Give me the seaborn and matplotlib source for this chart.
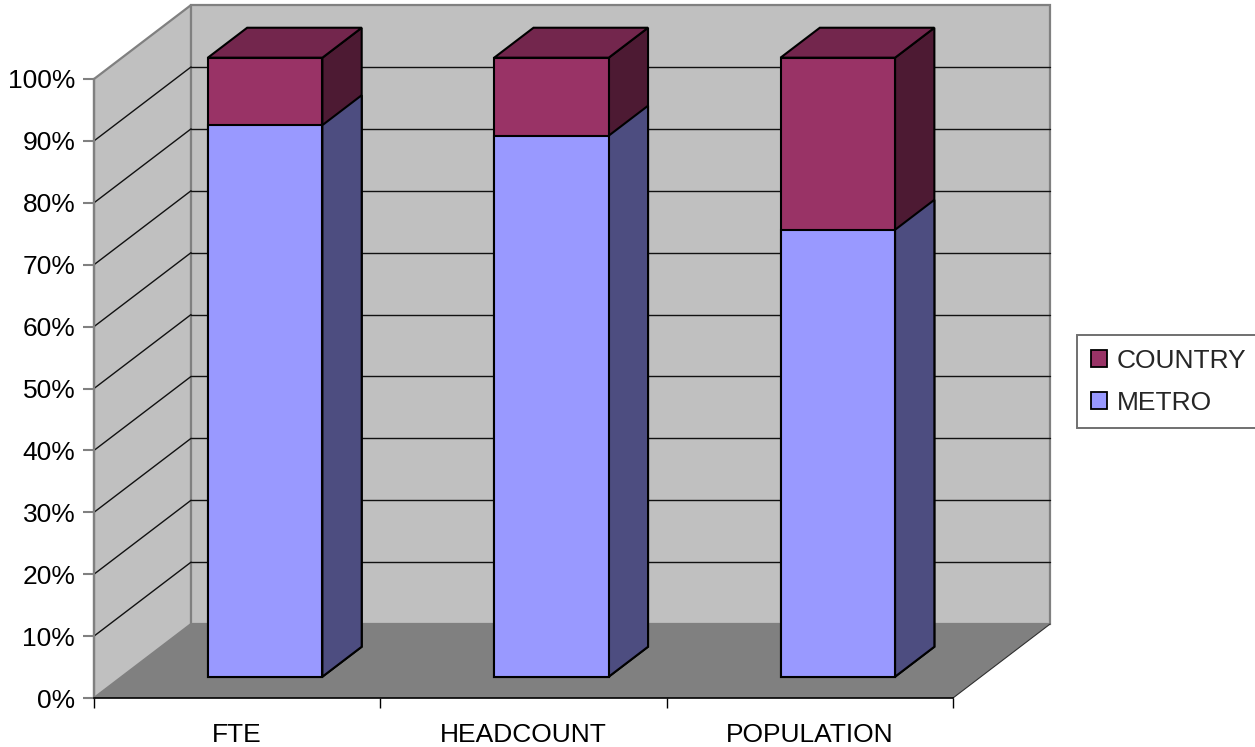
import matplotlib
matplotlib.use("Agg")
import matplotlib.pyplot as plt
import matplotlib.transforms as mtransforms
from matplotlib.patches import Polygon, Patch
import numpy as np
import pandas as pd
import seaborn as sns

# ---------------- data ----------------
categories = ["FTE", "HEADCOUNT", "POPULATION"]
metro = [0.891, 0.874, 0.722]
country = [0.109, 0.126, 0.278]
legend_series = ["COUNTRY", "METRO"]
y_ticks = [0.0, 0.1, 0.2, 0.3, 0.4, 0.5, 0.6, 0.7, 0.8, 0.9, 1.0]
y_tick_labels = ["0%", "10%", "20%", "30%", "40%", "50%", "60%", "70%", "80%", "90%", "100%"]

# ---------------- style ----------------
front_colors = {"METRO": "#9999FF", "COUNTRY": "#993366"}
top_colors = {"METRO": "#7373BF", "COUNTRY": "#73264D"}
side_colors = {"METRO": "#4D4D80", "COUNTRY": "#4D1A33"}
WALL = "#C0C0C0"
FLOOR = "#808080"
EDGE_GRAY = "#808080"
FS = 19
BAR_LW = 1.5

sns.set_theme(style="white")
plt.rcParams["font.family"] = ["Liberation Sans", "DejaVu Sans"]

W, H = 1255, 747
fig = plt.figure(figsize=(W / 100, H / 100), dpi=100)
fig.patch.set_facecolor("white")
ax = fig.add_axes([94 / W, (H - 698) / H, 859 / W, 619 / H])
ax.set_facecolor("none")

# 3D projection (oblique): depth d in [0,1]
DX, DY = 0.339, 0.1195
D0, D1 = 0.288, 0.693  # bar front / back depth
X0, X1 = -0.5, 2.5


def proj(x, y, d):
    return (x + d * DX, y + d * DY)


def add_poly(pts, fc, ec="none", lw=0.0, z=1):
    poly = Polygon(pts, closed=True, facecolor=fc, edgecolor=ec, linewidth=lw,
                   zorder=z, clip_on=False, joinstyle="miter")
    ax.add_patch(poly)
    return poly


# walls and floor
add_poly([proj(X0, 0, 0), proj(X0, 1, 0), proj(X0, 1, 1), proj(X0, 0, 1)], WALL, EDGE_GRAY, 1.6, 0.5)
add_poly([proj(X0, 0, 1), proj(X1, 0, 1), proj(X1, 1, 1), proj(X0, 1, 1)], WALL, EDGE_GRAY, 1.6, 0.5)
add_poly([proj(X0, 0, 0), proj(X1, 0, 0), proj(X1, 0, 1), proj(X0, 0, 1)], FLOOR, "none", 0, 0.6)
fx, fy = zip(proj(X1, 0, 0), proj(X1, 0, 1))
ax.plot(fx, fy, color="#303030", lw=0.8, zorder=0.7, clip_on=False)

# gridlines on back and left walls
for t in y_ticks[1:-1]:
    gx, gy = zip(proj(X0, t, 1), proj(X1, t, 1))
    ax.plot(gx, gy, color="#111111", lw=1.0, zorder=0.8, clip_on=False)
    lx, ly = zip(proj(X0, t, 0), proj(X0, t, 1))
    ax.plot(lx, ly, color="#111111", lw=1.0, zorder=0.8, clip_on=False)

# ---------------- bars ----------------
df = pd.DataFrame({"category": categories, "METRO": metro, "COUNTRY": country})
df["stack_top"] = df["METRO"] + df["COUNTRY"]

offset = mtransforms.Affine2D().translate(D0 * DX, D0 * DY) + ax.transData


def draw_series(col, name, z, draw_top):
    n0 = len(ax.patches)
    sns.barplot(data=df, x="category", y=col, color=front_colors[name], saturation=1,
                width=0.4, edgecolor="black", linewidth=BAR_LW, errorbar=None, ax=ax)
    bars = ax.patches[n0:]
    for p in bars:
        x, w, yb, h = p.get_x(), p.get_width(), p.get_y(), p.get_height()
        p.set_transform(offset)
        p.set_clip_on(False)
        p.set_zorder(z + 0.2)
        yt = yb + h
        add_poly([proj(x + w, yb, D0), proj(x + w, yt, D0), proj(x + w, yt, D1), proj(x + w, yb, D1)],
                 side_colors[name], "black", BAR_LW, z)
        if draw_top:
            add_poly([proj(x, yt, D0), proj(x + w, yt, D0), proj(x + w, yt, D1), proj(x, yt, D1)],
                     top_colors[name], "black", BAR_LW, z)


draw_series("stack_top", "COUNTRY", 3, True)
draw_series("METRO", "METRO", 4, False)

# ---------------- axes ----------------
ax.set_xlim(X0, X1)
ax.set_ylim(0, 1)
ax.set_xlabel("")
ax.set_ylabel("")
ax.set_yticks(y_ticks)
ax.set_yticklabels(y_tick_labels, fontsize=FS, color="black")
ax.tick_params(axis="y", which="major", left=True, length=8, width=1.5, color=EDGE_GRAY, pad=5.5)
ax.set_xticks([-0.5, 0.5, 1.5, 2.5])
ax.set_xticklabels([])
ax.set_xticks([0, 1, 2], minor=True)
ax.set_xticklabels(categories, minor=True, fontsize=FS, color="black")
ax.tick_params(axis="x", which="major", bottom=True, length=7.5, width=1.0, color="black")
ax.tick_params(axis="x", which="minor", bottom=True, length=0, pad=18)
for s in ["top", "right"]:
    ax.spines[s].set_visible(False)
ax.spines["left"].set_color(EDGE_GRAY)
ax.spines["left"].set_linewidth(1.6)
ax.spines["left"].set_zorder(6)
ax.spines["bottom"].set_color("black")
ax.spines["bottom"].set_linewidth(1.2)
ax.spines["bottom"].set_zorder(6)
ax.grid(False)

# ---------------- legend ----------------
handles = [Patch(facecolor=front_colors[s], edgecolor="black", linewidth=1.3, label=s)
           for s in legend_series]
leg = fig.legend(handles=handles, loc="upper left",
                 bbox_to_anchor=(1077 / W, 1 - 335 / H), bbox_transform=fig.transFigure,
                 frameon=True, fancybox=False, shadow=False, framealpha=1,
                 edgecolor="#707070", fontsize=FS, handlelength=0.6, handleheight=0.6,
                 handletextpad=0.38, labelspacing=0.68, borderpad=0.52, borderaxespad=0)
leg.get_frame().set_linewidth(1.4)

fig.savefig("out.png", dpi=100, facecolor="white")
